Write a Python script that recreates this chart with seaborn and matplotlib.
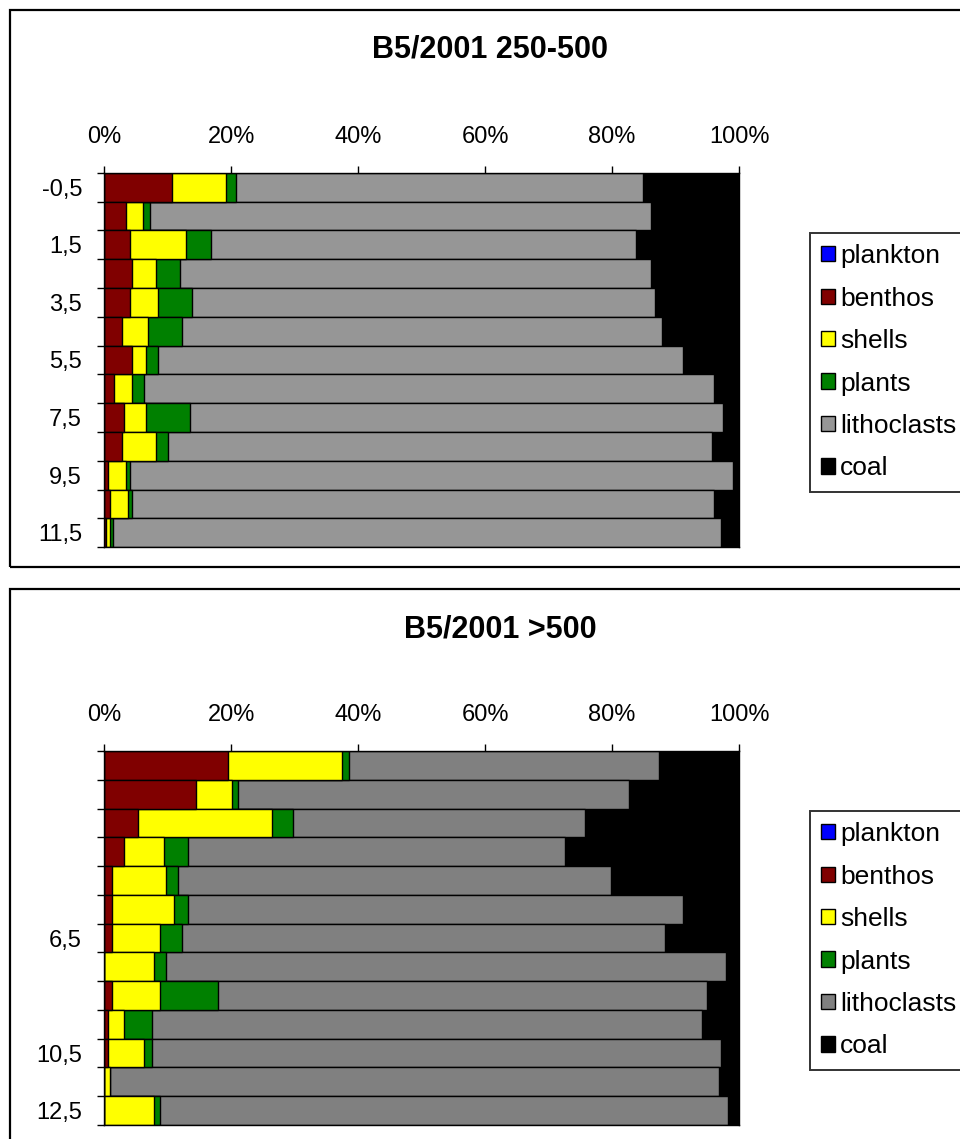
import numpy as np
import pandas as pd
import matplotlib
matplotlib.use('Agg')
import matplotlib.pyplot as plt
import seaborn as sns
from matplotlib.patches import Patch, Rectangle

# ---------------------------------------------------------------
# data (percent of each sample)
series = ['plankton', 'benthos', 'shells', 'plants', 'lithoclasts', 'coal']

# chart 1: B5/2001 250-500
depth_a = ['-0,5', '0,5', '1,5', '2,5', '3,5', '4,5', '5,5',
           '6,5', '7,5', '8,5', '9,5', '10,5', '11,5']
labels_a = ['-0,5', '', '1,5', '', '3,5', '', '5,5',
            '', '7,5', '', '9,5', '', '11,5']
plankton_a = [0, 0, 0, 0, 0, 0, 0, 0, 0, 0, 0, 0, 0]
benthos_a = [10.6, 3.4, 4.0, 4.4, 4.0, 2.8, 4.4, 1.5, 3.1, 2.8, 0.6, 0.9, 0.3]
shells_a = [8.6, 2.7, 8.9, 3.7, 4.5, 4.1, 2.2, 2.9, 3.5, 5.3, 2.8, 2.8, 0.6]
plants_a = [1.5, 1.1, 3.9, 3.8, 5.3, 5.3, 1.9, 1.9, 6.9, 1.9, 0.6, 0.7, 0.4]
litho_a = [64.2, 79.0, 66.9, 74.3, 73.0, 75.6, 82.7, 89.7, 84.0, 85.7, 95.1, 91.6, 95.9]
coal_a = [15.1, 13.8, 16.3, 13.8, 13.2, 12.2, 8.8, 4.0, 2.5, 4.3, 0.9, 4.0, 2.8]

# chart 2: B5/2001 >500
depth_b = ['0,5', '1,5', '2,5', '3,5', '4,5', '5,5', '6,5',
           '7,5', '8,5', '9,5', '10,5', '11,5', '12,5']
labels_b = ['', '', '', '', '', '', '6,5', '', '', '', '10,5', '', '12,5']
plankton_b = [0, 0, 0, 0, 0, 0, 0, 0, 0, 0, 0, 0, 0]
benthos_b = [19.5, 14.4, 5.3, 3.1, 1.2, 1.2, 1.2, 0.0, 1.2, 0.6, 0.6, 0.0, 0.0]
shells_b = [17.9, 5.7, 21.1, 6.3, 8.5, 9.8, 7.6, 7.8, 7.6, 2.5, 5.7, 0.9, 7.8]
plants_b = [1.1, 1.0, 3.3, 3.8, 1.9, 2.2, 3.4, 1.9, 9.1, 4.4, 1.2, 0.0, 1.0]
litho_b = [48.9, 61.6, 46.0, 59.4, 68.2, 78.0, 76.2, 88.2, 77.1, 86.6, 89.7, 96.0, 89.4]
coal_b = [12.6, 17.3, 24.3, 27.4, 20.2, 8.8, 11.6, 2.1, 5.0, 5.9, 2.8, 3.1, 1.8]

colors_a = ['#0000FF', '#800000', '#FFFF00', '#008000', '#969696', '#000000']
colors_b = ['#0000FF', '#800000', '#FFFF00', '#008000', '#808080', '#000000']

W, H = 960, 1139


#-------------------------------------------------------
def stacked(ax, depth, labels, values, colors):
    df = pd.DataFrame(dict(zip(series, values)))
    df['depth'] = depth
    cum = df[series].cumsum(axis=1)
    # draw the longest cumulative bar first, shorter ones on top
    for name, col in reversed(list(zip(series, colors))):
        sns.barplot(x=cum[name], y=df['depth'], orient='h', color=col,
                    width=1.0, edgecolor='black', linewidth=1.0,
                    saturation=1, ax=ax)
    ax.set_xlim(0, 100)
    ax.set_ylim(len(depth) - 0.5, -0.5)
    ax.set_xlabel('')
    ax.set_ylabel('')
    ax.xaxis.tick_top()
    ax.set_xticks(range(0, 101, 20))
    ax.set_xticklabels([f'{v}%' for v in range(0, 101, 20)])
    ax.tick_params(axis='x', direction='out', length=5, width=1,
                   pad=13, labelsize=17, colors='black')
    ax.set_yticks(range(len(depth)))
    ax.set_yticklabels(labels)
    ax.set_yticks(np.arange(-0.5, len(depth), 1), minor=True)
    ax.tick_params(axis='y', which='major', length=0, pad=16, labelsize=17,
                   colors='black')
    ax.tick_params(axis='y', which='minor', length=5, width=1, left=True,
                   colors='black')
    for sp in ax.spines.values():
        sp.set_visible(True)
        sp.set_color('black')
        sp.set_linewidth(1.0)


def main():
    sns.set_style('white')
    plt.rcParams['font.family'] = ['Liberation Sans', 'DejaVu Sans']
    plt.rcParams['text.color'] = 'black'
    fig = plt.figure(figsize=(W / 100, H / 100), dpi=100)
    fig.patch.set_facecolor('white')

    # panel frames
    fig.add_artist(Rectangle((9.5 / W, 1 - 567 / H), 1.2, (567 - 10) / H,
                             transform=fig.transFigure, fill=False,
                             ec='black', lw=1.6))
    fig.add_artist(Rectangle((9.5 / W, -0.2), 1.2, 0.2 + 1 - 589 / H,
                             transform=fig.transFigure, fill=False,
                             ec='black', lw=1.6))

    ax1 = fig.add_axes([104.3 / W, 1 - 547.3 / H, 634.7 / W, 374.6 / H])
    stacked(ax1, depth_a, labels_a,
            [plankton_a, benthos_a, shells_a, plants_a, litho_a, coal_a],
            colors_a)
    ax2 = fig.add_axes([104.3 / W, 1 - 1125 / H, 634.7 / W, 374 / H])
    stacked(ax2, depth_b, labels_b,
            [plankton_b, benthos_b, shells_b, plants_b, litho_b, coal_b],
            colors_b)

    fig.text(490 / W, 1 - 50 / H, 'B5/2001 250-500', ha='center',
             va='center', fontsize=22, weight='bold', color='black')
    fig.text(500 / W, 1 - 630 / H, 'B5/2001 >500', ha='center',
             va='center', fontsize=22, weight='bold', color='black')

    for cols, top in [(colors_a, 233), (colors_b, 811)]:
        handles = [Patch(facecolor=c, edgecolor='black', lw=1) for c in cols]
        leg = fig.legend(handles, series, loc='upper left',
                         bbox_to_anchor=(810 / W, 1 - top / H),
                         bbox_transform=fig.transFigure, fontsize=19,
                         frameon=True, fancybox=False, borderaxespad=0,
                         handlelength=0.52, handleheight=0.52,
                         handletextpad=0.2, labelspacing=0.7,
                         borderpad=0.42)
        leg.get_frame().set_edgecolor('black')
        leg.get_frame().set_linewidth(1.4)
        for t in leg.get_texts():
            t.set_color('black')

    fig.savefig('out.png', dpi=100, facecolor='white')


#-------------------------------------------------------
if __name__ == '__main__':
    main()
